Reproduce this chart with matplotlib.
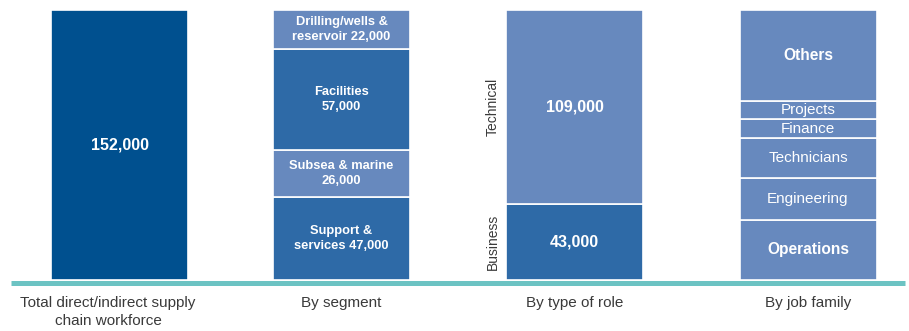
import matplotlib.pyplot as plt
from matplotlib.lines import Line2D

plt.rcParams['font.family'] = ['Liberation Sans', 'DejaVu Sans']

# workforce breakdowns, all stacks total 152,000
categories = ['Total direct/indirect supply\nchain workforce', 'By segment',
              'By type of role', 'By job family']

total_values = [152000]
total_labels = ['152,000']

segment_values = [47000, 26000, 57000, 22000]
segment_labels = ['Support &\nservices 47,000', 'Subsea & marine\n26,000',
                  'Facilities\n57,000', 'Drilling/wells &\nreservoir 22,000']

role_names = ['Business', 'Technical']
role_values = [43000, 109000]
role_labels = ['43,000', '109,000']

family_names = ['Operations', 'Engineering', 'Technicians', 'Finance', 'Projects', 'Others']
family_values = [34000, 23500, 22500, 10500, 10500, 51000]

DARK = '#00508f'
MID = '#2e6aa7'
LIGHT = '#6789be'
TEAL = '#6cc3c3'
GREY = '#3a3a3a'

W, H = 909, 331
fig = plt.figure(figsize=(W / 100, H / 100), dpi=100)
base_px, top_px = 280, 10
ax = fig.add_axes([0, (H - base_px) / H, 1, (base_px - top_px) / H])
ax.set_xlim(0, W)
ax.set_ylim(0, sum(total_values))
ax.axis('off')

xs = [119.5, 341.5, 574.5, 808]
bw = 137


def stack(x, values, colors, labels, weights, sizes, spacing=1.2):
    bottom = 0
    for v, c, lab, wt, fs in zip(values, colors, labels, weights, sizes):
        ax.bar(x, v, width=bw, bottom=bottom, color=c, edgecolor='white', linewidth=1.2)
        ax.text(x, bottom + v / 2, lab, ha='center', va='center', color='white',
                fontsize=fs, fontweight=wt, linespacing=spacing)
        bottom += v


stack(xs[0], total_values, [DARK], total_labels, ['bold'], [11.5])
stack(xs[1], segment_values, [MID, LIGHT, MID, LIGHT], segment_labels,
      ['bold'] * 4, [9.3] * 4, spacing=1.38)
stack(xs[2], role_values, [MID, LIGHT], role_labels, ['bold'] * 2, [11.5] * 2)
stack(xs[3], family_values, [LIGHT] * 6, family_names,
      ['bold', 'normal', 'normal', 'normal', 'normal', 'bold'],
      [11.2, 11, 11, 11, 11, 11.2])

# rotated role names beside the third bar
bottom = 0
for name, v in zip(role_names, role_values):
    ax.text(xs[2] - bw / 2 - 13, bottom + v / 2, name, rotation=90, ha='center',
            va='center', color=GREY, fontsize=10)
    bottom += v

# teal baseline
fig.add_artist(Line2D([11 / W, 905 / W], [1 - 282.5 / H] * 2, color=TEAL,
                      linewidth=3.6, solid_capstyle='butt'))

label_x = [108, 341.5, 574.5, 808]
for x, cat in zip(label_x, categories):
    fig.text(x / W, 1 - 296 / H, cat, ha='center', va='top', color=GREY,
             fontsize=11, linespacing=1.4)

fig.savefig('out.png', dpi=100)
